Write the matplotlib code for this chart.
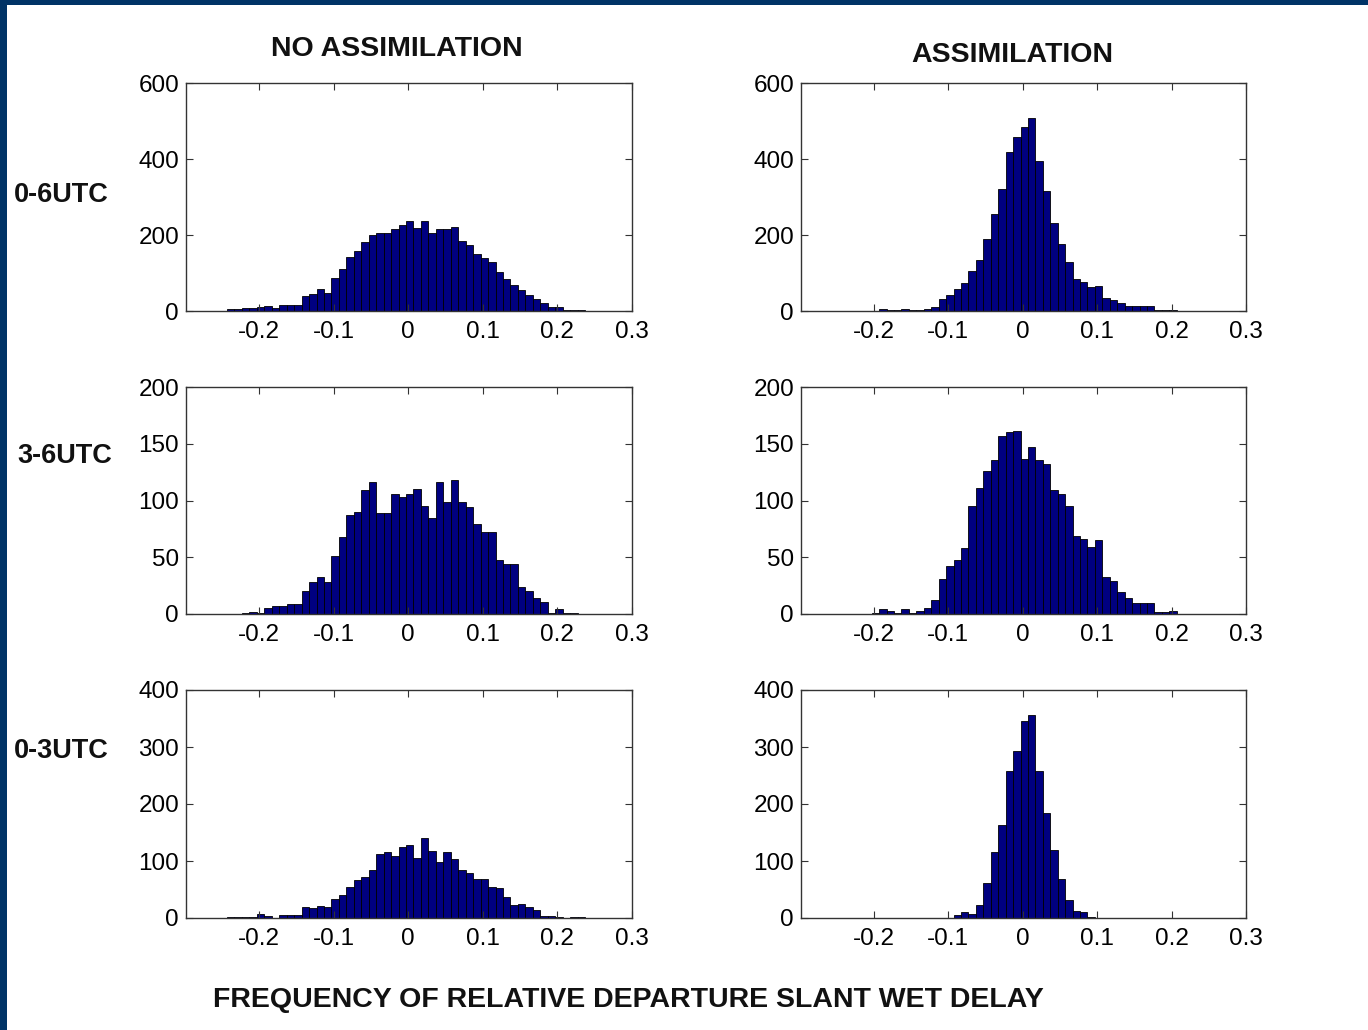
import numpy as np
import matplotlib
matplotlib.use("Agg")
import matplotlib.pyplot as plt
from matplotlib.patches import Rectangle

plt.rcParams['font.family'] = ['Liberation Sans', 'DejaVu Sans']
plt.rcParams['axes.unicode_minus'] = False

# bin width of all histograms
bin_width = 0.01

# 0-6 UTC
no_assim_06_start = -0.243
no_assim_06 = [4, 4, 7, 7, 11, 12, 9, 17, 17, 17, 40, 46, 57, 47, 86, 110, 141, 159,
               182, 201, 204, 204, 216, 226, 237, 218, 237, 204, 215, 215, 222, 185,
               174, 150, 140, 128, 102, 83, 68, 55, 42, 31, 20, 10, 10, 2, 2, 2]
assim_06_start = -0.203
assim_06 = [1, 6, 3, 3, 5, 3, 3, 5, 11, 32, 42, 57, 73, 105, 134, 189, 255, 321, 418,
            457, 483, 507, 396, 316, 231, 176, 128, 83, 77, 62, 66, 35, 29, 20, 14,
            12, 12, 12, 3, 3, 3]

# 3-6 UTC
no_assim_36_start = -0.223
no_assim_36 = [1, 2, 1, 5, 7, 7, 9, 9, 20, 28, 33, 28, 51, 68, 87, 90, 109, 116, 89,
               89, 106, 103, 106, 110, 95, 85, 116, 99, 118, 99, 94, 79, 72, 72, 48,
               44, 44, 24, 20, 14, 11, 0.5, 4, 1, 1]
assim_36_start = -0.203
assim_36 = [1, 4, 3, 1, 4, 0.5, 3, 5, 12, 31, 42, 48, 58, 95, 111, 126, 136, 157, 160,
            161, 137, 147, 136, 132, 109, 106, 95, 69, 66, 59, 65, 33, 29, 19, 14,
            10, 10, 10, 2, 2, 3]

# 0-3 UTC
no_assim_03_start = -0.243
no_assim_03 = [2, 1, 2, 2, 7, 4, 0.5, 5, 5, 5, 19, 18, 21, 20, 33, 40, 55, 67, 72, 84,
               112, 115, 109, 124, 128, 106, 141, 118, 99, 116, 103, 84, 79, 68, 68,
               55, 52, 36, 23, 25, 19, 14, 4, 4, 2, 0, 1, 1]
assim_03_start = -0.093
assim_03 = [6, 11, 7, 23, 61, 116, 163, 258, 293, 346, 357, 258, 184, 119, 68, 32,
            13, 11, 2]

row_labels = ['0-6UTC', '3-6UTC', '0-3UTC']
col_titles = ['NO ASSIMILATION', 'ASSIMILATION']
xticks = [-0.2, -0.1, 0, 0.1, 0.2, 0.3]
yticks = [[0, 200, 400, 600], [0, 50, 100, 150, 200], [0, 100, 200, 300, 400]]

panels = [
    [(no_assim_06_start, no_assim_06), (assim_06_start, assim_06)],
    [(no_assim_36_start, no_assim_36), (assim_36_start, assim_36)],
    [(no_assim_03_start, no_assim_03), (assim_03_start, assim_03)],
]

W, H = 1368, 1030
fig = plt.figure(figsize=(W / 100, H / 100), dpi=100)
fig.patch.set_facecolor('white')

# axes boxes in pixels
col_x = [(186, 632), (801, 1246)]
row_y = [(83, 311), (387, 614), (690, 918)]

for r in range(3):
    for c in range(2):
        x0, x1 = col_x[c]
        y0, y1 = row_y[r]
        ax = fig.add_axes([x0 / W, 1 - y1 / H, (x1 - x0) / W, (y1 - y0) / H])
        start, counts = panels[r][c]
        lefts = start + bin_width * np.arange(len(counts))
        ax.bar(lefts, counts, width=bin_width, align='edge',
               color='#000080', edgecolor='black', linewidth=0.6)
        ax.set_xlim(-0.298, 0.3)
        ax.set_ylim(yticks[r][0], yticks[r][-1])
        ax.set_xticks(xticks)
        ax.set_xticklabels(['-0.2', '-0.1', '0', '0.1', '0.2', '0.3'])
        ax.set_yticks(yticks[r])
        ax.tick_params(direction='in', top=True, right=True, length=5,
                       labelsize=17.5, color='#333333')
        ax.tick_params(axis='x', pad=7)
        ax.tick_params(axis='y', pad=5)
        for s in ax.spines.values():
            s.set_color('#333333')
            s.set_linewidth(1.0)

fig.text(397 / W, 1 - 49 / H, col_titles[0], ha='center', va='center',
         fontsize=20.5, fontweight='bold', color='#111111')
fig.text(1012 / W, 1 - 55 / H, col_titles[1], ha='center', va='center',
         fontsize=20.5, fontweight='bold', color='#111111')

for lab, y, x in zip(row_labels, [195, 456, 751], [14, 17, 14]):
    fig.text(x / W, 1 - y / H, lab, ha='left', va='center',
             fontsize=19.5, fontweight='bold', color='#111111')

fig.text(628 / W, 1 - 1000 / H, 'FREQUENCY OF RELATIVE DEPARTURE SLANT WET DELAY',
         ha='center', va='center', fontsize=20.5, fontweight='bold', color='#111111')

# dark blue frame at top and left
fig.patches.append(Rectangle((0, 1 - 5 / H), 1, 5 / H, transform=fig.transFigure,
                             facecolor='#003366', edgecolor='none'))
fig.patches.append(Rectangle((0, 0), 7 / W, 1, transform=fig.transFigure,
                             facecolor='#003366', edgecolor='none'))

fig.savefig('out.png', dpi=100)
